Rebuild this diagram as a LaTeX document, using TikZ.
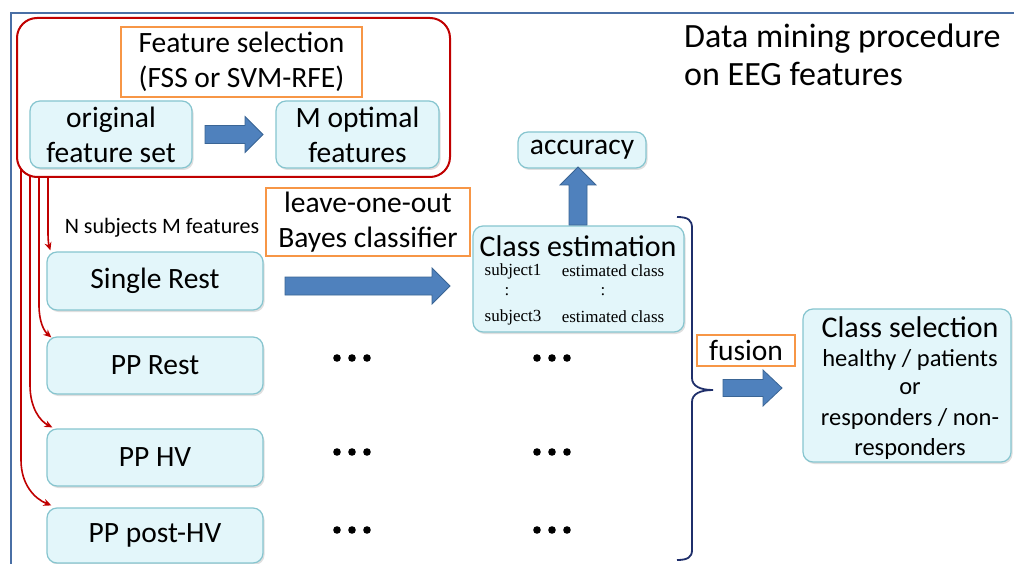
\documentclass[tikz,border=0pt]{standalone}
\usepackage{fontspec}
\setmainfont{Carlito}
\newfontfamily\serifrm{Liberation Serif}
\usetikzlibrary{arrows.meta,shadows}
\definecolor{boxfill}{HTML}{E3F6FA}
\definecolor{boxedge}{HTML}{86C5CF}
\definecolor{orangeedge}{HTML}{F79646}
\definecolor{redline}{HTML}{C00000}
\definecolor{arrowblue}{HTML}{4F81BD}
\definecolor{arrowedge}{HTML}{3A6595}
\definecolor{framecol}{HTML}{4A6FA5}
\definecolor{bracecol}{HTML}{1F2F6B}
\newcommand{\fsz}[2]{\fontsize{#1}{#2}\selectfont}
\begin{document}
\begin{tikzpicture}[x=1pt,y=-1pt,
  cbox/.style={draw=boxedge, fill=boxfill, line width=1.2pt, rounded corners=10pt, align=center, inner sep=0pt,
    font=\fsz{29.5}{35}, drop shadow={shadow xshift=1.5pt, shadow yshift=-2pt, opacity=.25, fill=gray}},
  obox/.style={draw=orangeedge, line width=1.8pt, fill=white, align=center, inner sep=0pt, font=\fsz{29.5}{35}},
  barrow/.style={fill=arrowblue, draw=arrowedge, line width=0.8pt},
  redarr/.style={draw=redline, line width=1.6pt, -{Stealth[length=8pt,width=7pt]}},
  plain/.style={inner sep=0pt},
  sertext/.style={inner sep=0pt, font=\serifrm\fsz{17}{20}},
  dots/.pic={\foreach \dx in {-15,0,15} \fill (\dx,0) circle (3.8);}
]
\useasboundingbox (0,0) rectangle (1014,564);
\fill[white] (0,0) rectangle (1014,564);

% outer frame
\draw[framecol, line width=2pt] (1014,13) -- (11,13) -- (11,564);

% left column boxes
\node[cbox, minimum width=216pt, minimum height=58pt] (sr) at (155,281) {Single Rest};
\node[cbox, minimum width=216pt, minimum height=57pt] (ppr) at (155,365.5) {PP Rest};
\node[cbox, minimum width=216pt, minimum height=57pt] (pphv) at (155,457.5) {PP HV};
\node[cbox, minimum width=216pt, minimum height=55pt] (pppost) at (155,535.5) {PP post-HV};

% red arrows
\coordinate (s1) at (48,177);
\coordinate (s2) at (39,177);
\coordinate (s3) at (30,175);
\coordinate (s4) at (21,169);
\draw[redarr] (s1) -- (48,232) .. controls (48,242) and (49,246) .. ([shift={(4,-1)}]sr.north west);
\draw[redarr] (s2) -- (39,305) .. controls (39,322) and (44,331) .. ([shift={(5,1)}]ppr.north west);
\draw[redarr] (s3) -- (30,385) .. controls (30,408) and (40,421) .. ([shift={(6,-1)}]pphv.north west);
\draw[redarr] (s4) -- (21,460) .. controls (21,485) and (35,499) .. ([shift={(5,-2)}]pppost.north west);

% red group box
\node[draw=redline, line width=2pt, rounded corners=20pt, minimum width=433pt, minimum height=159pt, inner sep=0pt] (grp) at (233.5,97.5) {};

\node[obox, minimum width=241pt, minimum height=70pt] (fs) at (241.5,62) {Feature selection\\(FSS or SVM-RFE)};
\node[cbox, minimum width=162pt, minimum height=67pt] (orig) at (111,134.5) {original\\feature set};
\node[cbox, minimum width=163pt, minimum height=67pt] (mopt) at (357.5,134.5) {M optimal\\features};
\path[barrow] (205,125.5) -- (245,125.5) -- (245,116.5) -- (263,134.5) -- (245,152.5) -- (245,143.5) -- (205,143.5) -- cycle;

% title
\node[plain, anchor=base west, font=\fsz{34}{38}] (t1) at (684,48) {Data mining procedure};
\node[plain, anchor=base west, font=\fsz{34}{38}] (t2) at (684,86) {on EEG features};

% accuracy and class estimation
\node[cbox, minimum width=128pt, minimum height=36pt] (acc) at (582,150) {accuracy};
\node[cbox, minimum width=211pt, minimum height=106pt] (ce) at (578.5,279) {};
\node[plain, font=\fsz{30}{34}] (cet) at (578,246) {Class estimation};
\node[sertext] (c11) at (513,271) {subject1};
\node[sertext] (c12) at (613,271) {estimated class};
\node[sertext] (c21) at (507,292) {:};
\node[sertext] (c22) at (603,292) {:};
\node[sertext] (c31) at (513,317) {subject3};
\node[sertext] (c32) at (613,317) {estimated class};
\path[barrow] (569,225) -- (569,185) -- (560,185) -- (578,167) -- (596,185) -- (587,185) -- (587,225) -- cycle;

% leave-one-out
\node[obox, minimum width=204pt, minimum height=68pt] (loo) at (368,222) {leave-one-out\\Bayes classifier};
\node[plain, font=\fsz{22}{25}] (nsub) at (162,228) {N subjects M features};
\path[barrow] (285,277) -- (432,277) -- (432,268) -- (450,286) -- (432,304) -- (432,295) -- (285,295) -- cycle;

% dots
\pic at (352,358) {dots};
\pic at (352,452) {dots};
\pic at (352,530) {dots};
\pic at (552,358) {dots};
\pic at (552,452) {dots};
\pic at (552,530) {dots};

% brace
\draw[bracecol, line width=1.8pt] (677,217) .. controls (688,217) and (692,220) .. (692,228)
  -- (692,378) .. controls (692,386) and (700,390) .. (713,390)
  .. controls (700,390) and (692,394) .. (692,402)
  -- (692,550) .. controls (692,557) and (688,560) .. (677,560);

% fusion
\node[obox, minimum width=98pt, minimum height=31pt] (fus) at (746,350.5) {fusion};
\path[barrow] (723,379.5) -- (763,379.5) -- (763,370) -- (782,388) -- (763,406) -- (763,396.5) -- (723,396.5) -- cycle;

% class selection
\node[cbox, minimum width=208pt, minimum height=153pt] (cs) at (907,385.5) {};
\node[plain, font=\fsz{30}{34}] (cs1) at (910,327) {Class selection};
\node[plain, font=\fsz{24.5}{28}] (cs2) at (910,360) {healthy / patients};
\node[plain, font=\fsz{24.5}{28}] (cs3) at (910,389) {or};
\node[plain, font=\fsz{24.5}{28}] (cs4) at (910,419) {responders / non-};
\node[plain, font=\fsz{24.5}{28}] (cs5) at (910,449) {responders};
\end{tikzpicture}
\end{document}
